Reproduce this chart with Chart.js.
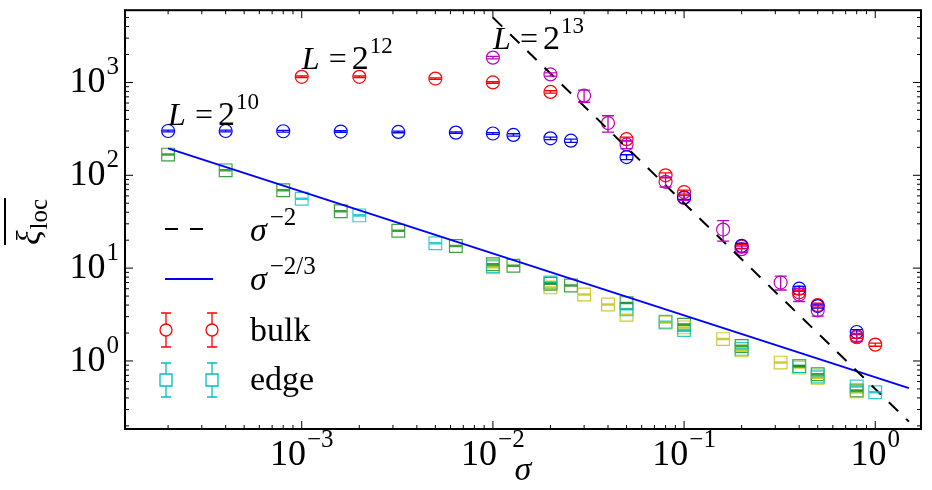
<!DOCTYPE html>
<html>
<head>
<meta charset="utf-8">
<script src="https://cdn.jsdelivr.net/npm/chart.js@4.4.0/dist/chart.umd.min.js"></script>
<style>
    html, body { margin: 0; padding: 0; background: #fff; }
    #wrap { width: 932px; height: 490px; }
</style>
</head>
<body>
<div id="wrap"><canvas id="grafico" width="932" height="490"></canvas></div>
<script>
// bulk, L = 2^10 (azul)
const sigmaBulk10 = [2e-4, 4e-4, 8e-4, 1.6e-3, 3.2e-3, 6.4e-3, 0.01, 0.0128, 0.02, 0.0256, 0.05, 0.1, 0.2, 0.4, 0.5, 0.8];
const xiBulk10    = [300, 300, 298, 296, 293, 288, 282, 272, 250, 236, 157, 58, 17.4, 6.0, 3.9, 2.05];
const errBulk10   = [0.02, 0.02, 0.02, 0.02, 0.02, 0.02, 0.02, 0.03, 0.03, 0.04, 0.06, 0.05, 0.06, 0.06, 0.05, 0.06];

// bulk, L = 2^12 (rojo)
const sigmaBulk12 = [1e-3, 2e-3, 5e-3, 0.01, 0.02, 0.05, 0.08, 0.1, 0.2, 0.4, 0.5, 0.8, 1.0];
const xiBulk12    = [1150, 1150, 1100, 1000, 790, 245, 100, 66, 17, 5.5, 4.0, 1.85, 1.5];
const errBulk12   = [0.02, 0.02, 0.02, 0.02, 0.03, 0.05, 0.06, 0.05, 0.05, 0.05, 0.05, 0.05, 0.04];

// bulk, L = 2^13 (magenta)
const sigmaBulk13 = [0.01, 0.02, 0.03, 0.04, 0.05, 0.08, 0.1, 0.16, 0.2, 0.32, 0.4, 0.5, 0.8];
const xiBulk13    = [1850, 1220, 720, 365, 215, 85, 57, 26, 16, 7.0, 5.2, 3.5, 1.8];
const errBulk13   = [0.03, 0.04, 0.15, 0.2, 0.1, 0.12, 0.06, 0.25, 0.08, 0.17, 0.16, 0.13, 0.1];

// edge (verde)
const sigmaEdgeG = [2e-4, 4e-4, 8e-4, 1.6e-3, 3.2e-3, 6.4e-3, 0.01, 0.0128, 0.02, 0.0256, 0.05, 0.1, 0.2, 0.4, 0.5, 0.8];
const xiEdgeG    = [167, 113, 69, 41, 25.3, 17.3, 11, 10.6, 6.8, 6.5, 4.2, 2.45, 1.45, 0.88, 0.72, 0.48];

// edge (cian)
const sigmaEdgeC = [1e-3, 2e-3, 5e-3, 0.01, 0.02, 0.05, 0.08, 0.1, 0.2, 0.4, 0.5, 0.8, 1.0];
const xiEdgeC    = [56, 37, 18.5, 10.5, 7.0, 3.6, 2.65, 2.15, 1.35, 0.88, 0.68, 0.53, 0.46];

// edge (amarillo)
const sigmaEdgeY = [0.01, 0.02, 0.03, 0.04, 0.05, 0.08, 0.1, 0.16, 0.2, 0.32, 0.4, 0.5, 0.8];
const xiEdgeY    = [10.2, 6.2, 5.2, 4.05, 3.15, 2.6, 2.3, 1.72, 1.3, 0.96, 0.85, 0.66, 0.47];

// rectas de referencia (extremos leidos)
const sigmaRef2  = [0.01, 1.5];
const xiRef2     = [5000, 0.222];
const sigmaRef23 = [2e-4, 1.5];
const xiRef23    = [195, 0.51];

// ejes
const xTickValues = [1e-3, 1e-2, 1e-1, 1];
const xTickExps   = ['\u22123', '\u22122', '\u22121', '0'];
const yTickValues = [1, 10, 100, 1000];
const yTickExps   = ['0', '1', '2', '3'];
const X_MIN = 1.19e-4, X_MAX = 1.735;
const Y_MIN = 0.185, Y_MAX = 6000;

const SERIF = '"Liberation Serif", "DejaVu Serif", serif';

function puntos(xs, ys) {
    return xs.map((x, i) => ({ x: x, y: ys[i] }));
}

function serieBulk(xs, ys, errs, color) {
    return {
        data: puntos(xs, ys),
        errors: errs,
        borderColor: color,
        backgroundColor: 'rgba(0,0,0,0)',
        pointStyle: 'circle',
        pointRadius: 6.5,
        borderWidth: 1.2,
        showLine: false
    };
}

function serieEdge(xs, ys, color) {
    return {
        data: puntos(xs, ys),
        errors: xs.map(() => 0.015),
        borderColor: color,
        backgroundColor: 'rgba(0,0,0,0)',
        pointStyle: 'rect',
        pointRadius: 9,
        borderWidth: 1.2,
        showLine: false
    };
}

// dibuja texto con partes (normal / cursiva / superindice)
function medirPartes(ctx, partes) {
    let w = 0;
    partes.forEach(p => {
        ctx.font = (p.italic ? 'italic ' : '') + p.size + 'px ' + SERIF;
        w += (p.gap || 0) + ctx.measureText(p.t).width;
    });
    return w;
}

function dibujarPartes(ctx, partes, x, y) {
    let cx = x;
    partes.forEach(p => {
        ctx.font = (p.italic ? 'italic ' : '') + p.size + 'px ' + SERIF;
        cx += (p.gap || 0);
        ctx.fillText(p.t, cx, y - (p.dy || 0));
        cx += ctx.measureText(p.t).width;
    });
    return cx;
}

const errorBarsPlugin = {
    id: 'errorBars',
    afterDatasetsDraw(chart) {
        const { ctx, chartArea, scales: { x, y } } = chart;
        ctx.save();
        ctx.beginPath();
        ctx.rect(chartArea.left, chartArea.top, chartArea.right - chartArea.left, chartArea.bottom - chartArea.top);
        ctx.clip();
        chart.data.datasets.forEach(ds => {
            if (!ds.errors) return;
            ctx.strokeStyle = ds.borderColor;
            ctx.lineWidth = 1.3;
            ds.data.forEach((p, i) => {
                const e = ds.errors[i];
                const px = x.getPixelForValue(p.x);
                const top = y.getPixelForValue(p.y * (1 + e));
                const bot = y.getPixelForValue(p.y * (1 - e));
                ctx.beginPath();
                ctx.moveTo(px, top); ctx.lineTo(px, bot);
                ctx.moveTo(px - 6, top); ctx.lineTo(px + 6, top);
                ctx.moveTo(px - 6, bot); ctx.lineTo(px + 6, bot);
                ctx.stroke();
            });
        });
        ctx.restore();
    }
};

function menores(min, max) {
    const vals = [];
    for (let e = Math.floor(Math.log10(min)); e <= Math.ceil(Math.log10(max)); e++) {
        for (let k = 2; k <= 9; k++) {
            const v = k * Math.pow(10, e);
            if (v > min && v < max) vals.push(v);
        }
    }
    return vals;
}

const marcoPlugin = {
    id: 'marco',
    afterDraw(chart) {
        const { ctx, chartArea: a, scales: { x, y } } = chart;
        ctx.save();

        // ticks hacia dentro en los cuatro lados
        ctx.strokeStyle = '#000';
        ctx.lineWidth = 1;
        const tick = (px, len, vertical) => {
            ctx.beginPath();
            if (vertical) {
                ctx.moveTo(px, a.bottom); ctx.lineTo(px, a.bottom - len);
                ctx.moveTo(px, a.top); ctx.lineTo(px, a.top + len);
            } else {
                ctx.moveTo(a.left, px); ctx.lineTo(a.left + len, px);
                ctx.moveTo(a.right, px); ctx.lineTo(a.right - len, px);
            }
            ctx.stroke();
        };
        xTickValues.forEach(v => tick(x.getPixelForValue(v), 8, true));
        menores(X_MIN, X_MAX).forEach(v => tick(x.getPixelForValue(v), 4, true));
        yTickValues.forEach(v => tick(y.getPixelForValue(v), 8, false));
        menores(Y_MIN, Y_MAX).forEach(v => tick(y.getPixelForValue(v), 4, false));

        // marco
        ctx.lineWidth = 2;
        ctx.strokeRect(a.left, a.top, a.right - a.left, a.bottom - a.top);

        ctx.fillStyle = '#000';
        ctx.textBaseline = 'alphabetic';
        ctx.textAlign = 'left';

        // etiquetas eje x
        xTickValues.forEach((v, i) => {
            const partes = [{ t: '10', size: 36 }, { t: xTickExps[i], size: 25, dy: 18, gap: 1 }];
            const w = medirPartes(ctx, partes);
            dibujarPartes(ctx, partes, x.getPixelForValue(v) - w / 2, 465);
        });
        // etiquetas eje y
        yTickValues.forEach((v, i) => {
            const partes = [{ t: '10', size: 36 }, { t: yTickExps[i], size: 25, dy: 18, gap: 1 }];
            const w = medirPartes(ctx, partes);
            dibujarPartes(ctx, partes, 119 - w, y.getPixelForValue(v) + 10);
        });

        // titulo eje x
        ctx.font = 'italic 34px ' + SERIF;
        ctx.textAlign = 'center';
        ctx.fillText('\u03c3', 523, 480);
        ctx.textAlign = 'left';

        // titulo eje y (xi con barra, subindice loc)
        ctx.save();
        ctx.translate(32, 221);
        ctx.rotate(-Math.PI / 2);
        ctx.font = 'italic 34px ' + SERIF;
        ctx.fillText('\u03be', -24, 8);
        const wXi = ctx.measureText('\u03be').width;
        ctx.font = '25px ' + SERIF;
        ctx.fillText('loc', -24 + wXi + 1, 15);
        ctx.lineWidth = 2;
        ctx.beginPath();
        ctx.moveTo(-24, -27); ctx.lineTo(23, -27);
        ctx.stroke();
        ctx.restore();

        // anotaciones L = 2^n
        const anot = [
            { x: 2e-4, y: 352, exp: '10' },
            { x: 1e-3, y: 1409, exp: '12' },
            { x: 0.01, y: 2296, exp: '13' }
        ];
        anot.forEach(t => {
            const px = x.getPixelForValue(t.x);
            const py = y.getPixelForValue(t.y);
            ctx.font = 'italic 32px ' + SERIF;
            ctx.fillText('L', px, py);
            ctx.font = '32px ' + SERIF;
            ctx.fillText('=', px + 27, py);
            ctx.font = '34px ' + SERIF;
            ctx.fillText('2', px + 50, py);
            ctx.font = '23px ' + SERIF;
            ctx.fillText(t.exp, px + 68, py - 16);
        });

        // leyenda
        ctx.strokeStyle = '#000';
        ctx.lineWidth = 2;
        ctx.setLineDash([13, 12]);
        ctx.beginPath(); ctx.moveTo(165, 229); ctx.lineTo(204, 229); ctx.stroke();
        ctx.setLineDash([]);
        ctx.strokeStyle = '#0000ff';
        ctx.beginPath(); ctx.moveTo(165, 279); ctx.lineTo(213, 279); ctx.stroke();

        const marcaLeyenda = (mx, my, color, tipo) => {
            ctx.strokeStyle = color;
            ctx.lineWidth = 1.3;
            ctx.beginPath();
            ctx.moveTo(mx, my - 17); ctx.lineTo(mx, my + 17);
            ctx.moveTo(mx - 5, my - 17); ctx.lineTo(mx + 5, my - 17);
            ctx.moveTo(mx - 5, my + 17); ctx.lineTo(mx + 5, my + 17);
            ctx.stroke();
            ctx.fillStyle = '#fff';
            ctx.beginPath();
            if (tipo === 'circle') ctx.arc(mx, my, 6, 0, Math.PI * 2);
            else ctx.rect(mx - 6, my - 6, 12, 12);
            ctx.fill();
            ctx.stroke();
        };
        [166, 212].forEach(mx => marcaLeyenda(mx, 330, '#ff0000', 'circle'));
        [166, 212].forEach(mx => marcaLeyenda(mx, 380, '#00bfbf', 'rect'));

        ctx.fillStyle = '#000';
        dibujarPartes(ctx, [{ t: '\u03c3', size: 34, italic: true }, { t: '\u22122', size: 25, dy: 16, gap: 3 }], 250, 241);
        dibujarPartes(ctx, [{ t: '\u03c3', size: 34, italic: true }, { t: '\u22122/3', size: 25, dy: 16, gap: 3 }], 250, 290);
        ctx.font = '34px ' + SERIF;
        ctx.fillText('bulk', 250, 341);
        ctx.fillText('edge', 250, 390);

        ctx.restore();
    }
};

new Chart(document.getElementById('grafico').getContext('2d'), {
    type: 'scatter',
    data: {
        datasets: [
            {
                type: 'line',
                data: puntos(sigmaRef2, xiRef2),
                borderColor: '#000',
                borderWidth: 2,
                borderDash: [13, 11],
                pointRadius: 0,
                showLine: true,
                fill: false
            },
            {
                type: 'line',
                data: puntos(sigmaRef23, xiRef23),
                borderColor: '#0000ff',
                borderWidth: 2,
                pointRadius: 0,
                showLine: true,
                fill: false
            },
            serieBulk(sigmaBulk10, xiBulk10, errBulk10, '#0000ff'),
            serieBulk(sigmaBulk12, xiBulk12, errBulk12, '#ff0000'),
            serieBulk(sigmaBulk13, xiBulk13, errBulk13, '#bf00bf'),
            serieEdge(sigmaEdgeC, xiEdgeC, 'rgba(0, 191, 191, 0.8)'),
            serieEdge(sigmaEdgeY, xiEdgeY, 'rgba(191, 191, 0, 0.8)'),
            serieEdge(sigmaEdgeG, xiEdgeG, 'rgba(0, 128, 0, 0.75)')
        ]
    },
    options: {
        responsive: false,
        animation: false,
        layout: { padding: { left: 125, right: 11, top: 4, bottom: 61 } },
        scales: {
            x: { type: 'logarithmic', min: X_MIN, max: X_MAX, display: false },
            y: { type: 'logarithmic', min: Y_MIN, max: Y_MAX, display: false }
        },
        plugins: {
            legend: { display: false },
            tooltip: { enabled: false }
        }
    },
    plugins: [errorBarsPlugin, marcoPlugin]
});
</script>
</body>
</html>
